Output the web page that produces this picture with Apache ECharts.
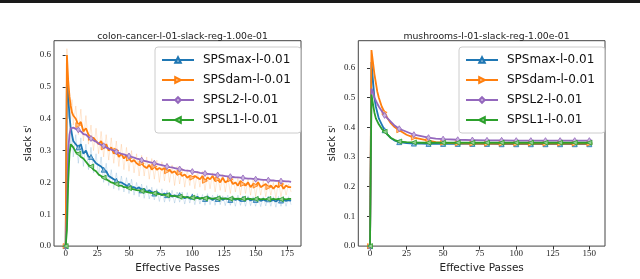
<!DOCTYPE html>
<html><head><meta charset="utf-8">
<script src="https://cdn.jsdelivr.net/npm/echarts@6/dist/echarts.min.js"></script>
<style>html,body{margin:0;padding:0;background:#fff}#c{width:640px;height:279px}</style>
</head><body><div id="c"></div>
<script>
// ---------- data ----------
const titleL = 'colon-cancer-l-01-slack-reg-1.00e-01';
const titleR = 'mushrooms-l-01-slack-reg-1.00e-01';
const names = ['SPSmax-l-0.01', 'SPSdam-l-0.01', 'SPSL2-l-0.01', 'SPSL1-l-0.01'];
const yTicks = [0, 0.1, 0.2, 0.3, 0.4, 0.5, 0.6];
const xTicksL = [0, 25, 50, 75, 100, 125, 150, 175];
const xTicksR = [0, 25, 50, 75, 100, 125, 150];

const xsL = [0,1,2,3,4,5,6,8,10,12,
  14,16,18,20,22,24,26,28,30,32,
  34,36,38,40,42,44,46,48,50,52,
  54,56,58,60,62,64,66,68,70,72,
  74,76,78,80,82,84,86,88,90,92,
  94,96,98,100,102,104,106,108,110,112,
  114,116,118,120,122,124,126,128,130,132,
  134,136,138,140,142,144,146,148,150,152,
  154,156,158,160,162,164,166,168,170,172,
  174,176,178];
const maxL = [0,0.53,0.47,0.41,0.37,0.35,0.33,0.32,0.31,0.32,
  0.29,0.30,0.28,0.28,0.27,0.26,0.255,0.25,0.24,0.235,
  0.22,0.215,0.21,0.205,0.2,0.2,0.195,0.19,0.19,0.185,
  0.185,0.18,0.185,0.175,0.18,0.17,0.175,0.17,0.165,0.17,
  0.165,0.16,0.165,0.16,0.165,0.155,0.16,0.155,0.16,0.155,
  0.15,0.155,0.15,0.155,0.15,0.155,0.148,0.152,0.148,0.155,
  0.15,0.145,0.15,0.148,0.152,0.145,0.15,0.148,0.145,0.15,
  0.145,0.148,0.142,0.148,0.145,0.15,0.143,0.147,0.145,0.148,
  0.142,0.146,0.143,0.147,0.142,0.145,0.14,0.146,0.143,0.145,
  0.142,0.144,0.143];
const damL = [0,0.60,0.52,0.47,0.44,0.42,0.41,0.40,0.38,0.39,
  0.36,0.37,0.35,0.34,0.34,0.33,0.32,0.33,0.31,0.32,
  0.30,0.31,0.29,0.30,0.28,0.29,0.275,0.285,0.275,0.265,
  0.27,0.26,0.255,0.26,0.25,0.245,0.255,0.24,0.25,0.24,
  0.245,0.24,0.245,0.235,0.24,0.23,0.235,0.225,0.23,0.22,
  0.225,0.215,0.22,0.215,0.22,0.215,0.21,0.22,0.205,0.215,
  0.21,0.22,0.205,0.21,0.2,0.215,0.2,0.205,0.21,0.195,
  0.2,0.19,0.205,0.195,0.19,0.2,0.185,0.195,0.19,0.2,
  0.185,0.19,0.195,0.185,0.19,0.18,0.19,0.185,0.195,0.18,
  0.19,0.185,0.185];
const l2L = [0,0.1,0.3,0.35,0.37,0.375,0.372,0.368,0.365,0.36,
  0.352,0.35,0.342,0.338,0.332,0.328,0.322,0.318,0.315,0.31,
  0.306,0.303,0.3,0.296,0.293,0.29,0.288,0.285,0.283,0.28,
  0.278,0.275,0.273,0.27,0.268,0.266,0.264,0.262,0.26,0.258,
  0.256,0.254,0.252,0.25,0.248,0.247,0.245,0.243,0.242,0.24,
  0.238,0.237,0.236,0.234,0.233,0.232,0.23,0.229,0.228,0.227,
  0.226,0.225,0.224,0.223,0.222,0.221,0.22,0.219,0.218,0.217,
  0.216,0.216,0.215,0.214,0.213,0.212,0.212,0.211,0.21,0.21,
  0.209,0.208,0.208,0.207,0.206,0.206,0.205,0.205,0.204,0.204,
  0.203,0.203,0.202];
const l1L = [0,0.05,0.2,0.29,0.32,0.325,0.31,0.295,0.29,0.28,
  0.275,0.265,0.255,0.25,0.24,0.235,0.225,0.22,0.215,0.21,
  0.205,0.2,0.198,0.195,0.19,0.19,0.185,0.185,0.182,0.18,
  0.178,0.176,0.175,0.173,0.172,0.17,0.168,0.167,0.166,0.165,
  0.163,0.162,0.161,0.16,0.158,0.158,0.157,0.156,0.155,0.155,
  0.154,0.153,0.152,0.152,0.152,0.151,0.15,0.151,0.15,0.151,
  0.15,0.149,0.15,0.15,0.149,0.15,0.149,0.148,0.149,0.15,
  0.148,0.149,0.148,0.149,0.147,0.149,0.148,0.147,0.148,0.149,
  0.147,0.148,0.147,0.148,0.147,0.148,0.147,0.148,0.147,0.148,
  0.147,0.148,0.148];
// faint run-to-run spread (light background traces)
const damSpreadL = [0,0.62,0.5,0.49,0.4,0.46,0.38,0.44,0.35,0.43,
  0.33,0.41,0.32,0.38,0.3,0.37,0.29,0.36,0.28,0.35,
  0.27,0.34,0.26,0.33,0.25,0.32,0.24,0.31,0.235,0.3,
  0.23,0.29,0.22,0.285,0.22,0.28,0.21,0.275,0.21,0.27,
  0.2,0.265,0.205,0.26,0.2,0.255,0.19,0.25,0.195,0.245,
  0.185,0.24,0.19,0.24,0.18,0.235,0.185,0.235,0.175,0.23,
  0.18,0.23,0.17,0.225,0.175,0.225,0.17,0.22,0.165,0.22,
  0.17,0.215,0.16,0.215,0.165,0.21,0.16,0.21,0.155,0.205,
  0.16,0.205,0.155,0.2,0.16,0.2,0.15,0.205,0.155,0.2,
  0.16,0.195,0.17];
const maxSpreadL = [0,0.55,0.4,0.43,0.3,0.37,0.28,0.35,0.26,0.34,
  0.25,0.32,0.24,0.31,0.23,0.29,0.22,0.28,0.2,0.26,
  0.19,0.24,0.18,0.23,0.175,0.22,0.17,0.215,0.165,0.21,
  0.16,0.2,0.155,0.195,0.15,0.19,0.148,0.185,0.145,0.18,
  0.14,0.18,0.138,0.175,0.14,0.175,0.135,0.17,0.138,0.17,
  0.132,0.168,0.135,0.165,0.13,0.165,0.132,0.162,0.128,0.165,
  0.13,0.16,0.128,0.162,0.13,0.158,0.127,0.16,0.128,0.158,
  0.125,0.16,0.128,0.157,0.125,0.158,0.127,0.155,0.125,0.157,
  0.124,0.155,0.126,0.156,0.125,0.155,0.122,0.156,0.125,0.154,
  0.125,0.155,0.13];

const xsR = [0,1,2,3,4,5,6,8,10,12,14,17,20,25,30,35,40,45,50,60,70,80,90,100,110,120,130,140,150,152];
const maxR = [0,0.62,0.56,0.5,0.47,0.45,0.43,0.41,0.39,0.375,0.365,0.355,0.35,0.347,0.345,0.345,0.344,0.344,0.344,0.344,0.344,0.344,0.343,0.343,0.343,0.343,0.343,0.343,0.343,0.343];
const damR = [0,0.66,0.62,0.58,0.55,0.52,0.5,0.47,0.45,0.43,0.415,0.4,0.39,0.375,0.365,0.36,0.355,0.35,0.348,0.346,0.345,0.345,0.345,0.345,0.345,0.345,0.345,0.345,0.345,0.345];
const l2R = [0,0.53,0.52,0.5,0.49,0.48,0.47,0.455,0.44,0.43,0.42,0.405,0.395,0.385,0.375,0.37,0.365,0.362,0.36,0.358,0.357,0.356,0.356,0.355,0.355,0.355,0.355,0.355,0.355,0.355];
const l1R = [0,0.51,0.48,0.45,0.43,0.42,0.41,0.395,0.385,0.375,0.365,0.357,0.352,0.35,0.349,0.348,0.348,0.348,0.348,0.348,0.348,0.348,0.348,0.348,0.348,0.348,0.348,0.348,0.348,0.348];

// ---------- styles ----------
const COL = ['#1f77b4', '#ff7f0e', '#9467bd', '#2ca02c'];
const FILL = ['#8fbbd9', '#ffbf86', '#c9b3de', '#95cf95'];
const SYM = [
  {s: 'triangle', r: 0, z: 5},
  {s: 'triangle', r: -90, z: 5},
  {s: 'diamond', r: 0, z: [4, 6]},
  {s: 'triangle', r: 90, z: 5}
];
const SERIF = 'Liberation Serif';
const SANS = 'DejaVu Sans';

function mainSeries(i, xs, ys, g) {
  return {
    type: 'line', name: names[i], xAxisIndex: g, yAxisIndex: g,
    data: xs.map((x, k) => ({value: [x, ys[k]], symbol: (x % 10 === 0) ? SYM[i].s : 'none'})),
    symbol: SYM[i].s, symbolRotate: SYM[i].r, symbolSize: SYM[i].z,
    showAllSymbol: true, animation: false,
    lineStyle: {color: COL[i], width: 1.8},
    itemStyle: {color: FILL[i], borderColor: COL[i], borderWidth: 0.8},
    z: 3 + i
  };
}
function faint(name, xs, ys, g, col) {
  return {
    type: 'line', name: name, xAxisIndex: g, yAxisIndex: g, silent: true,
    data: xs.map((x, k) => [x, ys[k]]), symbol: 'none', animation: false,
    lineStyle: {color: col, width: 1, opacity: 0.18}, z: 1
  };
}
function yAxis(g, max) {
  return {
    type: 'value', gridIndex: g, min: 0, max: max,
    splitLine: {show: false}, axisLine: {show: false},
    axisTick: {show: true, length: 3, customValues: yTicks, lineStyle: {color: '#333'}},
    axisLabel: {customValues: yTicks, formatter: v => v.toFixed(1), fontFamily: SERIF, fontSize: 9, color: '#222', margin: 3},
    name: 'slack s{sup|i}', nameLocation: 'middle', nameGap: 19,
    nameTextStyle: {fontFamily: SANS, fontSize: 10, color: '#222',
      rich: {sup: {fontFamily: SERIF, fontStyle: 'italic', fontSize: 7, verticalAlign: 'top', padding: [0, 0, 6, 0], color: '#222'}}}
  };
}
function xAxis(g, min, max, ticks) {
  return {
    type: 'value', gridIndex: g, min: min, max: max,
    splitLine: {show: false}, axisLine: {show: false},
    axisTick: {show: true, length: 3.5, customValues: ticks, lineStyle: {color: '#333'}},
    axisLabel: {customValues: ticks, fontFamily: SERIF, fontSize: 9, color: '#222', margin: 3},
    name: 'Effective Passes', nameLocation: 'middle', nameGap: 14,
    nameTextStyle: {fontFamily: SANS, fontSize: 10.5, color: '#222', verticalAlign: 'top'}
  };
}
function legend(left) {
  return {
    data: names, orient: 'vertical', left: left, top: 47, width: 138,
    itemWidth: 32, itemHeight: 7, itemGap: 8,
    padding: [7, 10, 7, 6], borderColor: '#cccccc', borderWidth: 1, borderRadius: 3,
    backgroundColor: 'rgba(255,255,255,0.85)',
    textStyle: {fontFamily: SANS, fontSize: 12, color: '#111', padding: [0, 0, 0, 4], lineHeight: 12},
    selectedMode: false
  };
}

const chart = echarts.init(document.getElementById('c'), null, {renderer: 'canvas'});
chart.setOption({
  animation: false,
  title: [
    {text: titleL, left: 177.5, top: 27, textAlign: 'center', textStyle: {fontFamily: SANS, fontSize: 9.3, fontWeight: 'normal', color: '#222'}},
    {text: titleR, left: 481.5, top: 27, textAlign: 'center', textStyle: {fontFamily: SANS, fontSize: 9.3, fontWeight: 'normal', color: '#222'}}
  ],
  grid: [
    {left: 54, top: 40.7, width: 247, height: 217, show: true, borderColor: '#444', borderWidth: 1, backgroundColor: 'transparent'},
    {left: 358.3, top: 40.7, width: 246.7, height: 216.8, show: true, borderColor: '#444', borderWidth: 1, backgroundColor: 'transparent'}
  ],
  xAxis: [xAxis(0, -9.2, 185.8, xTicksL), xAxis(1, -8, 160.7, xTicksR)],
  yAxis: [yAxis(0, 0.645), yAxis(1, 0.6915)],
  legend: [legend(155), legend(459)],
  graphic: [{type: 'rect', shape: {x: 0, y: 0, width: 640, height: 3}, style: {fill: '#1a1a1a'}, silent: true}],
  series: [
    faint('dam-spread', xsL, damSpreadL, 0, COL[1]),
    faint('max-spread', xsL, maxSpreadL, 0, COL[0]),
    mainSeries(0, xsL, maxL, 0), mainSeries(1, xsL, damL, 0), mainSeries(2, xsL, l2L, 0), mainSeries(3, xsL, l1L, 0),
    mainSeries(0, xsR, maxR, 1), mainSeries(1, xsR, damR, 1), mainSeries(2, xsR, l2R, 1), mainSeries(3, xsR, l1R, 1)
  ]
});
</script></body></html>
